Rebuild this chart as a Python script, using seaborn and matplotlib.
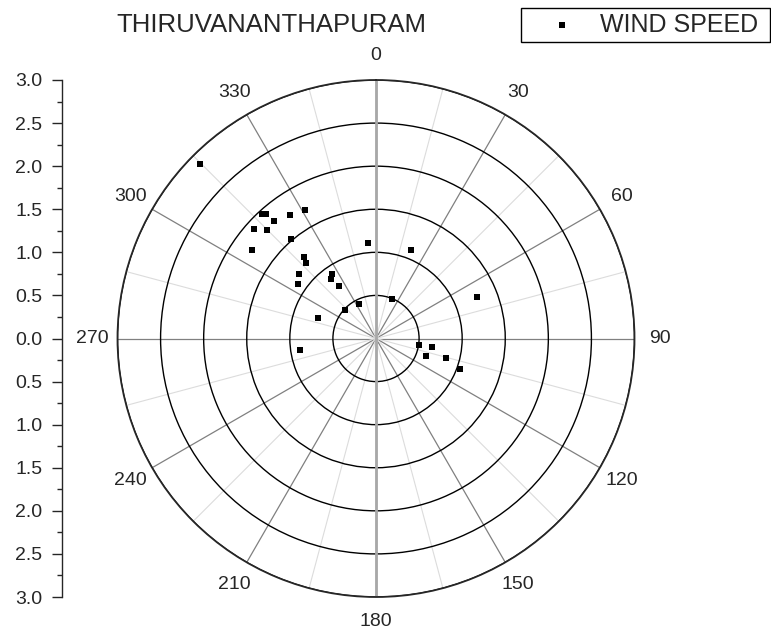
import numpy as np
import pandas as pd
import seaborn as sns
import matplotlib.pyplot as plt
from matplotlib.ticker import MultipleLocator, FuncFormatter

# wind direction (deg, clockwise from north) and speed
direction = [314.8, 317.5, 318.5, 319.0, 325.3, 331.1, 311.9, 314.9, 319.3, 305.4,
             318.7, 317.2, 310.0, 304.9, 325.8, 322.7, 324.9, 334.0, 312.2, 289.7,
             261.2, 355.0, 21.9, 21.6, 67.8, 98.7, 98.8, 109.1, 105.5, 109.8]
speed = [2.88, 1.96, 1.93, 1.81, 1.75, 1.71, 1.91, 1.78, 1.52, 1.77,
         1.26, 1.19, 1.17, 1.10, 0.91, 0.87, 0.75, 0.44, 0.49, 0.71,
         0.89, 1.11, 0.49, 1.11, 1.26, 0.51, 0.66, 0.62, 0.84, 1.03]

angle_ticks = list(range(0, 360, 30))
angle_labels = [str(a) for a in angle_ticks]
r_rings = [0.5, 1.0, 1.5, 2.0, 2.5, 3.0]

sns.set_style("white")
plt.rcParams['font.family'] = ['Liberation Sans', 'DejaVu Sans']

df = pd.DataFrame({'theta': np.radians(direction), 'speed': speed})

fig = plt.figure(figsize=(7.71, 6.41), dpi=100)
ax = fig.add_axes([115/771, 44/641, 522/771, 517/641], projection='polar')
ax.set_theta_zero_location('N')
ax.set_theta_direction(-1)
ax.set_axisbelow(True)

sns.scatterplot(data=df, x='theta', y='speed', ax=ax, marker='s', color='black',
                s=22, linewidth=0, label='WIND SPEED\u00a0', zorder=5)

ax.set_ylim(0, 3)
ax.set_yticks(r_rings)
ax.set_yticklabels([])
ax.set_xticks(np.radians(angle_ticks))
ax.set_xticklabels(angle_labels)
ax.set_xticks(np.radians(np.arange(15, 360, 30)), minor=True)
ax.yaxis.grid(True, color='black', lw=1)
ax.xaxis.grid(True, which='major', color='#808080', lw=0.9)
ax.xaxis.grid(True, which='minor', color='#dcdcdc', lw=0.8)
ax.axvline(0, color='#a8a8a8', lw=2, zorder=1)
ax.axvline(np.pi, color='#a8a8a8', lw=2, zorder=1)
ax.spines['polar'].set_linewidth(1.3)
ax.tick_params(axis='x', which='major', direction='in', length=10, width=1,
               color='black', labelsize=14, pad=11)
ax.tick_params(axis='x', which='minor', direction='in', length=5, width=1, color='black')
ax.set_xlabel('')
ax.set_ylabel('')
ax.get_legend().remove()

# mirrored radial scale on the left
ax2 = fig.add_axes([62/771, 44/641, 0.0001, 517/641])
ax2.set_ylim(-3, 3)
ax2.yaxis.set_major_locator(MultipleLocator(0.5))
ax2.yaxis.set_minor_locator(MultipleLocator(0.25))
ax2.yaxis.set_major_formatter(FuncFormatter(lambda v, p: f'{abs(v):.1f}'))
ax2.set_xticks([])
for side in ['top', 'right', 'bottom']:
    ax2.spines[side].set_visible(False)
ax2.spines['left'].set_linewidth(1)
ax2.tick_params(axis='y', which='major', length=7, width=1, labelsize=14, pad=7, left=True)
ax2.tick_params(axis='y', which='minor', length=3.5, width=1, left=True)

fig.text(271/771, 1 - 25/641, 'THIRUVANANTHAPURAM', ha='center', va='center', fontsize=18.5)

handles, labels = ax.get_legend_handles_labels()
fig.legend(handles, labels, loc='upper right', bbox_to_anchor=(770/771, 1 - 8/641),
           fontsize=18, frameon=True, fancybox=False, edgecolor='black', framealpha=1,
           handlelength=2.9, handletextpad=0.05, borderpad=0.2, borderaxespad=0)

fig.savefig('out.png', dpi=100)
